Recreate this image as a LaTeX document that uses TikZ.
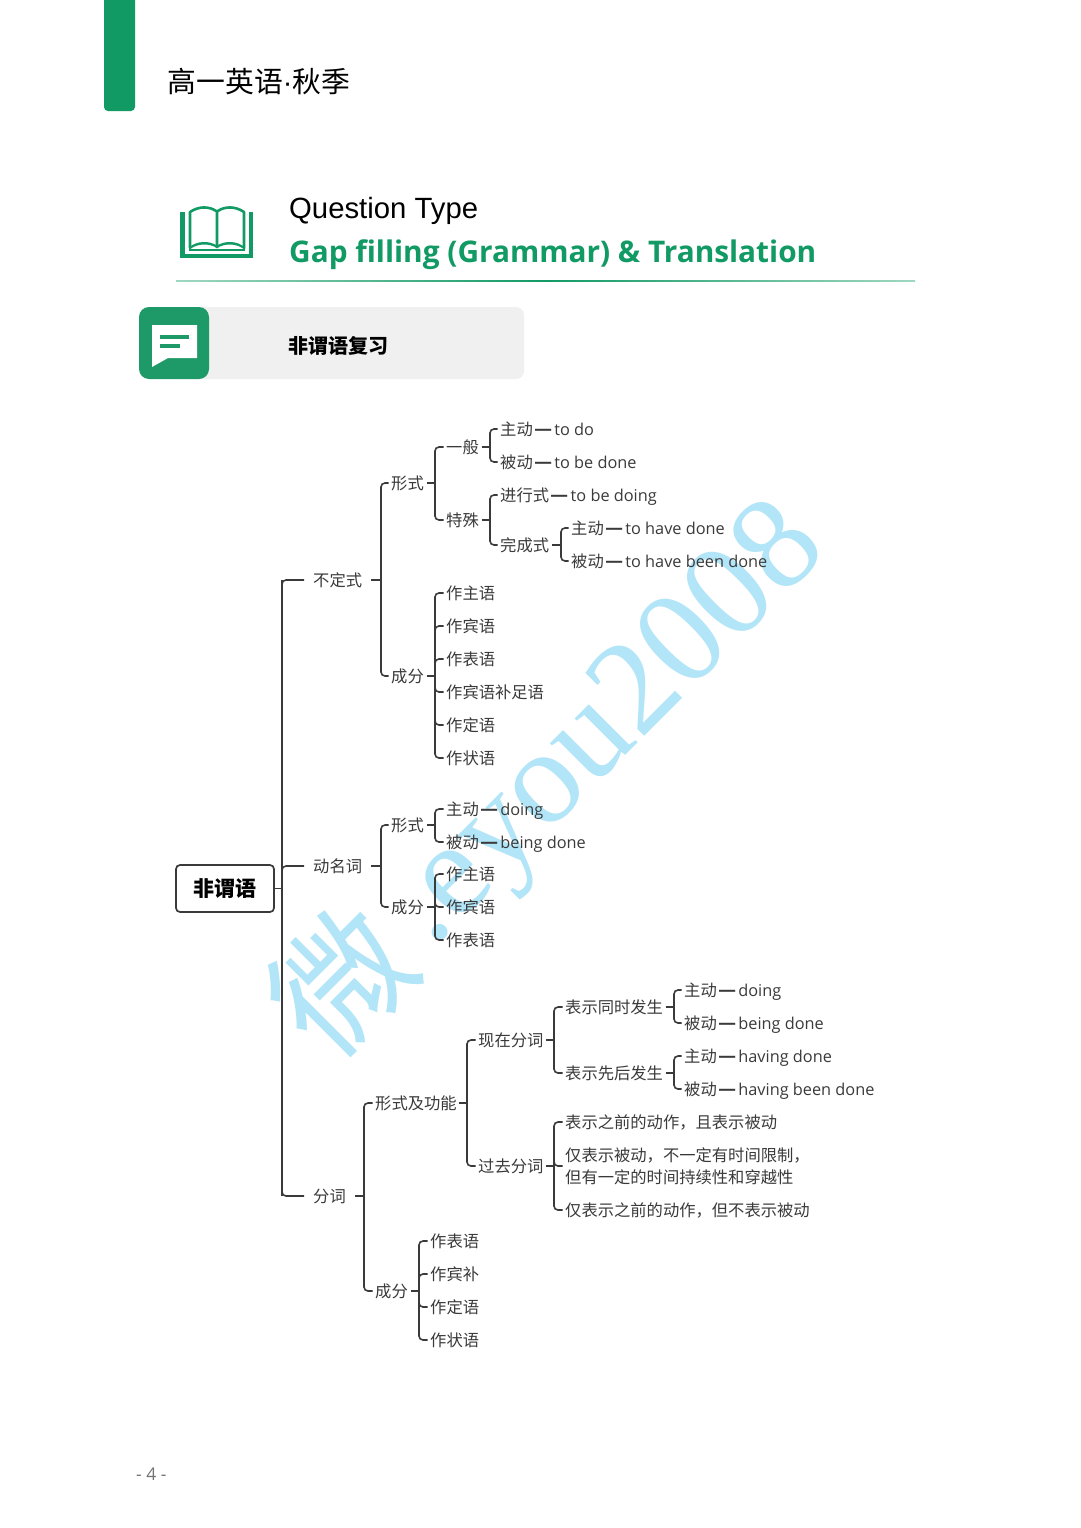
\documentclass[tikz,border=0pt]{standalone}
\usepackage{fontspec}
\setmainfont{Open Sans}
\newfontfamily\cjk{Noto Sans CJK SC}
\newfontfamily\lib{Liberation Sans}
\newfontfamily\wser{Liberation Serif}
\usetikzlibrary{calc}
\definecolor{gr}{HTML}{129A65}
\definecolor{chipgr}{HTML}{1E9A68}
\definecolor{ink}{HTML}{3A3A3A}
\definecolor{wm}{HTML}{B2E5F7}
\newcommand\zh[1]{{\cjk #1}}
\newcommand\dd{\hspace{1.4pt}\scalebox{1.22}[1.1]{\cjk\bfseries —}\hspace{2pt}}
\tikzset{
 tx/.style={anchor=west,inner sep=0pt,text=ink,font=\fontsize{16.3}{22}\selectfont,text height=15pt,text depth=1.6pt},
 tm/.style={anchor=west,inner sep=0pt,text=ink,font=\fontsize{16.3}{22}\selectfont,align=left},
 conn/.style={draw=ink,line width=1.6pt,rounded corners=4pt},
 stub/.style={draw=ink,line width=1.6pt},
 rootbox/.style={draw=ink,line width=1.7pt,rounded corners=4pt,minimum width=98pt,minimum height=47pt,inner sep=0pt,text=black,font=\fontsize{21}{24}\selectfont\cjk\bfseries},
}
% parent, spine x, children
\newcommand\brk[3]{%
 \coordinate (sp) at (#2,0 |- #1.east);
 \draw[stub] ($(#1.east)+(2.5,0)$) -- (sp);
 \foreach \c in {#3}{\draw[conn] (sp) |- ($(\c.west)+(-2.5,0)$);}
}
\begin{document}
\begin{tikzpicture}[x=1pt,y=-1pt]
\useasboundingbox (0,0) rectangle (1080,1528);
\fill[white] (0,0) rectangle (1080,1528);
% header
\fill[gr,rounded corners=4pt] (104,-8) rectangle (135,111);
\node[anchor=west,inner sep=0pt,font=\fontsize{28.8}{32}\selectfont\cjk] (title) at (167.5,82) {高一英语{\lib·}秋季};
\node[anchor=base west,inner sep=0pt,font=\fontsize{29.3}{32}\selectfont\lib] (qt) at (289,218) {Question Type};
\node[anchor=base west,inner sep=0pt,text=gr,font=\fontsize{29.8}{32}\selectfont\bfseries] (gf) at (289,262) {Gap filling (Grammar) \& Translation};
\shade[left color=gr!40,right color=gr!40,middle color=gr] (176,280.3) rectangle (915,281.5);
% book icon
\draw[gr,line width=4.4pt,line join=miter] (182.5,212) -- (182.5,255.7) -- (251,255.7) -- (251,212);
\draw[gr,line width=2.6pt,line join=round] (190,248) -- (190,212) .. controls (199,206) and (209,206) .. (217,211.5) -- (217,248);
\draw[gr,line width=2.6pt,line join=round] (244,248) -- (244,212) .. controls (235,206) and (225,206) .. (217,211.5);
\fill[gr] (189,250) .. controls (197,243) and (209,243) .. (217,248) .. controls (225,243) and (237,243) .. (245,250) -- (245,247.5) .. controls (237,240.5) and (225,240.5) .. (217,245.5) .. controls (209,240.5) and (197,240.5) .. (189,247.5) -- cycle;
\draw[gr,line width=2.6pt] (189,250) -- (245,250);
% chip
\fill[black!6,rounded corners=8pt] (170,307) rectangle (524,379);
\fill[chipgr,rounded corners=10pt] (139,307) rectangle (209,379);
\fill[white] (152,325) -- (197,325) -- (197,358) -- (168,358) -- (152,367) -- cycle;
\draw[chipgr,line width=3.6pt] (160,337) -- (189,337) (160,346) -- (180,346);
\node[anchor=west,inner sep=0pt,text=black,font=\fontsize{20}{22}\selectfont\cjk\bfseries] (chip) at (288,346) {非谓语复习};
% watermark
\node[inner sep=0pt,text=wm,rotate=45,font=\fontsize{135}{135}\selectfont\cjk] (wmzh) at (341,981) {微};
\node[inner sep=0pt,anchor=base,text=wm,rotate=45,font=\fontsize{134}{134}\selectfont\wser] (wmlat) at (631,750) {.eyou2008};
% tree
\node[rootbox] (root) at (225,888.5) {非谓语};
\node[tx] (a) at (313,580) {\zh{不定式}};
\node[tx] (b) at (313,866) {\zh{动名词}};
\node[tx] (c) at (313,1196) {\zh{分词}};
\coordinate (sp0) at (282,888.5);
\draw[stub] (root.east) -- (sp0);
\draw[stub] (282,580) -- (282,1196);
\draw[conn] (sp0) |- ($(a.west)+(-9,0)$);
\draw[conn] (sp0) |- ($(b.west)+(-9,0)$);
\draw[conn] (sp0) |- ($(c.west)+(-9,0)$);
% infinitive
\node[tx] (a1) at (391,483) {\zh{形式}};
\node[tx] (a2) at (391,676) {\zh{成分}};
\node[tx] (a11) at (446,447) {\zh{一般}};
\node[tx] (a12) at (446,520) {\zh{特殊}};
\node[tx] (a111) at (500,429) {\zh{主动}\dd to do};
\node[tx] (a112) at (500,462) {\zh{被动}\dd to be done};
\node[tx] (a121) at (500,495) {\zh{进行式}\dd to be doing};
\node[tx] (a122) at (500,545) {\zh{完成式}};
\node[tx] (a1221) at (571,528) {\zh{主动}\dd to have done};
\node[tx] (a1222) at (571,561) {\zh{被动}\dd to have been done};
\node[tx] (a21) at (446,593) {\zh{作主语}};
\node[tx] (a22) at (446,626) {\zh{作宾语}};
\node[tx] (a23) at (446,659) {\zh{作表语}};
\node[tx] (a24) at (446,692) {\zh{作宾语补足语}};
\node[tx] (a25) at (446,725) {\zh{作定语}};
\node[tx] (a26) at (446,758) {\zh{作状语}};
\coordinate (asp) at (381,580);
\draw[stub] ($(a.east)+(9,0)$) -- (asp);
\foreach \c in {a1,a2}{\draw[conn] (asp) |- ($(\c.west)+(-2.5,0)$);}
\brk{a1}{435}{a11,a12}
\brk{a11}{490}{a111,a112}
\brk{a12}{490}{a121,a122}
\brk{a122}{561}{a1221,a1222}
\brk{a2}{435}{a21,a22,a23,a24,a25,a26}
% gerund
\node[tx] (b1) at (391,825) {\zh{形式}};
\node[tx] (b2) at (391,907) {\zh{成分}};
\node[tx] (b11) at (446,809) {\zh{主动}\dd doing};
\node[tx] (b12) at (446,842) {\zh{被动}\dd being done};
\node[tx] (b21) at (446,874) {\zh{作主语}};
\node[tx] (b22) at (446,907) {\zh{作宾语}};
\node[tx] (b23) at (446,940) {\zh{作表语}};
\coordinate (bsp) at (381,866);
\draw[stub] ($(b.east)+(9,0)$) -- (bsp);
\foreach \c in {b1,b2}{\draw[conn] (bsp) |- ($(\c.west)+(-2.5,0)$);}
\brk{b1}{435}{b11,b12}
\brk{b2}{435}{b21,b22,b23}
% participle
\node[tx] (c1) at (375,1103) {\zh{形式及功能}};
\node[tx] (c2) at (375,1291) {\zh{成分}};
\node[tx] (c11) at (478,1040) {\zh{现在分词}};
\node[tx] (c12) at (478,1166) {\zh{过去分词}};
\node[tx] (c111) at (565,1007) {\zh{表示同时发生}};
\node[tx] (c112) at (565,1073) {\zh{表示先后发生}};
\node[tx] (c1111) at (684,990) {\zh{主动}\dd doing};
\node[tx] (c1112) at (684,1023) {\zh{被动}\dd being done};
\node[tx] (c1121) at (684,1056) {\zh{主动}\dd having done};
\node[tx] (c1122) at (684,1089) {\zh{被动}\dd having been done};
\node[tx] (c121) at (565,1122) {\zh{表示之前的动作，且表示被动}};
\node[tm] (c122) at (565,1166) {\zh{仅表示被动，不一定有时间限制，}\\\zh{但有一定的时间持续性和穿越性}};
\node[tx] (c123) at (565,1210) {\zh{仅表示之前的动作，但不表示被动}};
\node[tx] (c21) at (430,1241) {\zh{作表语}};
\node[tx] (c22) at (430,1274) {\zh{作宾补}};
\node[tx] (c23) at (430,1307) {\zh{作定语}};
\node[tx] (c24) at (430,1340) {\zh{作状语}};
\coordinate (csp) at (364,1196);
\draw[stub] ($(c.east)+(9,0)$) -- (csp);
\foreach \c in {c1,c2}{\draw[conn] (csp) |- ($(\c.west)+(-2.5,0)$);}
\brk{c1}{467}{c11,c12}
\brk{c11}{554}{c111,c112}
\brk{c111}{674}{c1111,c1112}
\brk{c112}{674}{c1121,c1122}
\brk{c12}{554}{c121,c122,c123}
\brk{c2}{419}{c21,c22,c23,c24}
% page number
\node[anchor=west,inner sep=0pt,text=black!55,font=\fontsize{17.5}{18}\selectfont] (pg) at (136,1474) {- 4 -};
\end{tikzpicture}
\end{document}
